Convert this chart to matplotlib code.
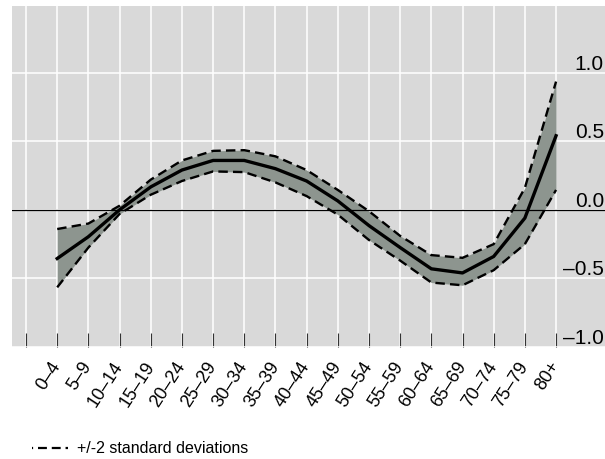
import matplotlib
matplotlib.use("Agg")
import matplotlib.pyplot as plt
import matplotlib.transforms as mtransforms
from matplotlib.lines import Line2D
import numpy as np

plt.rcParams['font.family'] = ['Liberation Sans', 'DejaVu Sans']

# age groups and estimated effects with +/-2 sd band
ages = ["0–4", "5–9", "10–14", "15–19", "20–24", "25–29", "30–34", "35–39",
        "40–44", "45–49", "50–54", "55–59", "60–64", "65–69", "70–74",
        "75–79", "80+"]
mean = [-0.355, -0.196, 0.0, 0.167, 0.29, 0.36, 0.36, 0.30, 0.21, 0.065,
        -0.115, -0.275, -0.43, -0.46, -0.34, -0.06, 0.54]
upper = [-0.14, -0.10, 0.03, 0.22, 0.36, 0.43, 0.435, 0.39, 0.29, 0.145,
         -0.01, -0.19, -0.33, -0.35, -0.25, 0.16, 0.935]
lower = [-0.565, -0.275, -0.03, 0.11, 0.21, 0.28, 0.275, 0.20, 0.10, -0.035,
         -0.22, -0.37, -0.53, -0.55, -0.44, -0.25, 0.145]
yticks = [-1.0, -0.5, 0.0, 0.5, 1.0]
ylabels = ["–1.0", "–0.5", "0.0", "0.5", "1.0"]

W, H = 605, 460
fig = plt.figure(figsize=(W / 100, H / 100), dpi=100)
ax = fig.add_axes([12 / W, (H - 348) / H, (W - 12) / W, (348 - 7) / H])
ax.set_facecolor("#d9d9d9")
for s in ax.spines.values():
    s.set_visible(False)

x = np.arange(1, len(ages) + 1)

ax.fill_between(x, lower, upper, color="#8d958f", linewidth=0, zorder=2)
ax.axhline(0, color="black", linewidth=0.9, zorder=3)
ax.plot(x, upper, color="black", linewidth=1.7, linestyle=(0, (4, 2.2)), zorder=4)
ax.plot(x, lower, color="black", linewidth=1.7, linestyle=(0, (4, 2.2)), zorder=4)
ax.plot(x, mean, color="black", linewidth=2.4, zorder=5)

ax.set_xlim(-0.45, 18.57)
ax.set_ylim(-0.986, 1.486)

ax.set_xticks(np.arange(0, len(ages) + 1))
ax.set_xticklabels([""] + ages, rotation=57, ha="right", va="center",
                   rotation_mode="anchor", fontsize=13)
ax.tick_params(axis="x", direction="in", length=10, width=0.8,
               color="#333333", pad=11)
ax.set_yticks(yticks)
ax.tick_params(axis="y", length=0, labelleft=False)
ax.grid(True, color="white", linewidth=1.1, zorder=0)
ax.set_axisbelow(True)

# y labels sit inside the plot, right-aligned just above each gridline
trans = mtransforms.offset_copy(ax.get_yaxis_transform(), fig=fig,
                                x=-1, y=4, units="dots")
for v, lab in zip(yticks, ylabels):
    ax.text(1.0, v, lab, transform=trans, ha="right", va="baseline",
            fontsize=15, clip_on=False)

# legend below the plot (dash offset leaves a dot at the start)
fig.add_artist(Line2D([32 / W, 68 / W], [1 - 449 / H, 1 - 449 / H],
                      color="black", linewidth=1.6,
                      linestyle=(3.5, (4, 2.2)), transform=fig.transFigure))
fig.text(77 / W, 1 - 449 / H, "+/-2 standard deviations", fontsize=11.5,
         ha="left", va="center")

fig.savefig("out.png", dpi=100)
